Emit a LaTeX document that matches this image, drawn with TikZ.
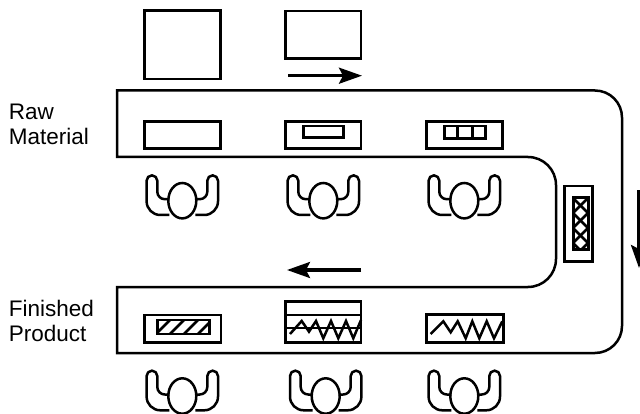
\documentclass[tikz,border=0pt]{standalone}
\usepackage{fontspec}
\setmainfont{Liberation Sans}
\usetikzlibrary{arrows.meta}
\tikzset{
  ln/.style={line width=2.5pt,line join=miter},
  hatch/.style={line width=2.7pt,line join=miter},
  flow/.style={line width=3.1pt,-{Stealth[length=23pt,width=16pt,inset=4pt]}},
  lbl/.style={anchor=base west,inner sep=0pt,font=\fontsize{22.5}{24}\selectfont},
  worker/.pic={
    \draw[ln,line join=round] (-13,14.3) -- (-22,14.3) arc[start angle=90,end angle=180,radius=13.7] -- (-35.7,-20)
      arc[start angle=180,end angle=360,radius=5.35] -- (-25,-9) arc[start angle=180,end angle=90,radius=7.5] -- (-13,-1.5);
    \draw[ln,line join=round] (13,14.3) -- (22,14.3) arc[start angle=90,end angle=0,radius=13.7] -- (35.7,-20)
      arc[start angle=0,end angle=-180,radius=5.35] -- (25,-9) arc[start angle=0,end angle=90,radius=7.5] -- (13,-1.5);
    \draw[ln] (0,0) ellipse[x radius=14,y radius=17.7];
  }
}
\begin{document}
\begin{tikzpicture}[x=1pt,y=-1pt]
\useasboundingbox (0,0) rectangle (640,414);
\clip (0,0) rectangle (640,414);
% belt
\draw[ln] (117,90.5) -- (595,90.5) arc[start angle=-90,end angle=0,radius=27] -- (622,326)
  arc[start angle=0,end angle=90,radius=27] -- (117,353) -- (117,287) -- (528,287)
  arc[start angle=90,end angle=0,radius=28] -- (556,185) arc[start angle=0,end angle=-90,radius=28] -- (117,157) -- cycle;
% top boxes
\draw[ln] (144.5,10.5) rectangle (220.5,79);
\draw[ln] (285.5,11) rectangle (361,58.5);
\coordinate (r1) at (288,75.7); \coordinate (r2) at (362,75.7);
\draw[flow] (r1) -- (r2);
% row 1
\draw[ln] (144.5,121.5) rectangle (220.5,148.5);
\draw[ln] (285.5,121.5) rectangle (361,148.5);
\draw[ln] (303.3,126) rectangle (343.7,137.7);
\draw[ln] (426.3,121.3) rectangle (502.3,148.3);
\draw[ln] (444.7,126) rectangle (485.3,138.3);
\draw[ln] (457.7,126) -- (457.7,138.3) (472.7,126) -- (472.7,138.3);
% side box
\draw[ln] (564.7,186) rectangle (592.3,261.7);
\begin{scope}
\clip (573,198) rectangle (588,250);
\draw[hatch] (573,198) -- (588,213) -- (573,228) -- (588,243) -- (573,258);
\draw[hatch] (588,198) -- (573,213) -- (588,228) -- (573,243) -- (588,258);
\end{scope}
\draw[ln,line width=3pt] (573,198) rectangle (588,250);
% down arrow
\coordinate (d1) at (639,190); \coordinate (d2) at (639,268);
\draw[flow] (d1) -- (d2);
% left arrow
\coordinate (l1) at (361,270); \coordinate (l2) at (287,270);
\draw[flow] (l1) -- (l2);
% row 2
\draw[ln] (144.7,315) rectangle (221,342.7);
\begin{scope}
\clip (157.3,320) rectangle (209.3,334);
\foreach \x in {170,184,198,212} \draw[hatch] (\x,320) -- (\x-14,334);
\end{scope}
\draw[ln] (157.3,320) rectangle (209.3,334);
\draw[ln] (285.5,301.7) rectangle (361,342.7);
\draw[ln] (285.5,315) -- (361,315) (285.5,328) -- (361,328);
\draw[ln] (290,334) -- (301.7,321) -- (309,331.7) -- (316,321) -- (323.3,338.3) -- (331,321) -- (338.3,338.3) -- (346,321) -- (353.3,338.3) -- (361,320);
\draw[ln] (426.7,314.7) rectangle (503.3,342.3);
\draw[ln] (430.7,334) -- (443.3,321.3) -- (450.7,332.3) -- (457.7,321.3) -- (465.7,338.3) -- (472.3,321.3) -- (479.3,338.3) -- (486.7,321.3) -- (494,338.3) -- (502.3,321.3);
% workers
\path (182.3,200.7) pic {worker};
\path (323.3,200.7) pic {worker};
\path (464.3,200.7) pic {worker};
\path (182.3,396) pic {worker};
\path (325.7,396) pic {worker};
\path (464.3,396) pic {worker};
% labels
\node[lbl] (raw) at (8.7,119.3) {Raw};
\node[lbl] (material) at (8.7,145) {Material};
\node[lbl] (finished) at (8.7,316) {Finished};
\node[lbl] (product) at (8.7,341.7) {Product};
\end{tikzpicture}
\end{document}
